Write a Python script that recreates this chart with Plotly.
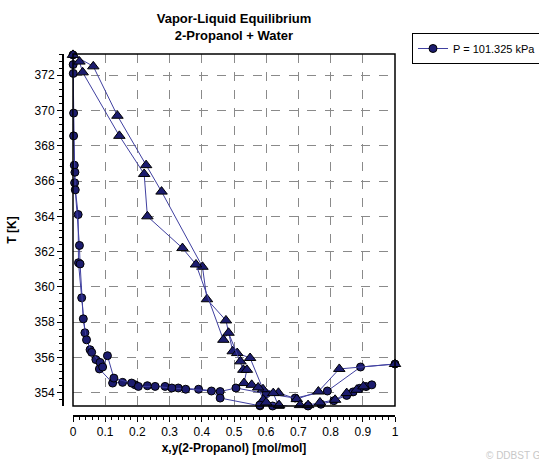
import plotly.graph_objects as go

# ---- data ----
# dataset A
xA = [0, 0.001, 0.002, 0.004, 0.005, 0.016, 0.017, 0.027, 0.037, 0.053, 0.071, 0.082, 0.123,
      0.154, 0.193, 0.231, 0.286, 0.327, 0.39, 0.457, 0.506, 0.6, 0.69, 0.79, 0.893, 1.0]
TxA = [373.15, 372.1, 369.85, 366.9, 365.9, 364.1, 361.37, 359.38, 357.4, 356.44, 355.88, 355.35, 354.55,
       354.59, 354.45, 354.4, 354.36, 354.27, 354.2, 354.07, 354.27, 353.95, 353.7, 354.1, 355.46, 355.63]
yA = [0, 0.063, 0.138, 0.227, 0.275, 0.402, 0.416, 0.475, 0.496, 0.51, 0.55, 0.59, 0.638,
      0.695, 0.762, 0.827, 1.0]
TyA = [373.15, 372.5, 369.7, 366.9, 365.4, 361.14, 359.3, 358.1, 356.35, 356.25, 355.97, 354.2, 354.0,
       353.64, 354.07, 355.35, 355.63]

# dataset B
xB = [0.0005, 0.002, 0.006, 0.007, 0.02, 0.022, 0.032, 0.042, 0.058, 0.084, 0.092, 0.107, 0.127,
      0.182, 0.203, 0.255, 0.307, 0.35, 0.43, 0.457, 0.581, 0.63, 0.68]
TxB = [372.6, 368.56, 366.5, 365.5, 362.35, 361.3, 358.19, 357.0, 356.29, 355.72, 355.46, 356.1, 354.83,
       354.55, 354.36, 354.36, 354.27, 354.2, 354.1, 353.7, 353.26, 353.22, 353.2]
yB = [0.02, 0.03, 0.144, 0.221, 0.231, 0.34, 0.382, 0.467, 0.483, 0.52, 0.529, 0.54, 0.531, 0.555,
      0.575, 0.591, 0.622, 0.638, 0.663, 0.68]
TyB = [372.77, 372.16, 368.56, 366.4, 364.0, 362.2, 361.27, 357.0, 357.4, 355.78, 355.3, 355.3, 354.55, 354.45,
       354.3, 353.6, 353.98, 353.26, 353.22, 353.2]

# dataset C
xC = [0.58, 0.62, 0.66, 0.7, 0.73, 0.77, 0.81, 0.85, 0.87, 0.89, 0.91, 0.928]
TxC = [353.3, 353.25, 353.2, 353.2, 353.25, 353.35, 353.55, 353.85, 354.05, 354.25, 354.35, 354.45]
yC = [0.6, 0.64, 0.67, 0.7, 0.705, 0.73, 0.767, 0.814, 0.85, 0.881, 0.902]
TyC = [353.45, 353.3, 353.22, 353.2, 353.3, 353.3, 353.45, 353.6, 353.98, 354.17, 354.36]

x_ticks = [0, 0.1, 0.2, 0.3, 0.4, 0.5, 0.6, 0.7, 0.8, 0.9, 1]
y_ticks = [354, 356, 358, 360, 362, 364, 366, 368, 370, 372]

series_name = "P = 101.325 kPa"
fill = "#1c1c6e"
line_col = "#4040a0"

fig = go.Figure()
first = True
for xs, ts, sym in [(xA, TxA, "circle"), (yA, TyA, "triangle-up"),
                    (xB, TxB, "circle"), (yB, TyB, "triangle-up"),
                    (xC, TxC, "circle"), (yC, TyC, "triangle-up")]:
    fig.add_trace(go.Scatter(
        x=xs, y=ts, mode="lines+markers", name=series_name,
        showlegend=first, cliponaxis=False,
        line=dict(color=line_col, width=1),
        marker=dict(symbol=sym, size=8 if sym == "circle" else 10, color=fill,
                    line=dict(color="black", width=1)),
    ))
    first = False

L, R, T, B = 63, 144, 54, 45
W, H = 539, 461
pw, ph = W - L - R, H - T - B

fig.update_layout(
    width=W, height=H,
    margin=dict(l=L, r=R, t=T, b=B, autoexpand=False),
    paper_bgcolor="white", plot_bgcolor="white",
    font=dict(family="Liberation Sans, Arial, sans-serif", size=12, color="black"),
    title=dict(text="<b>Vapor-Liquid Equilibrium<br>2-Propanol + Water</b>",
               x=(L + 10 + (pw - 10) / 2) / W, xanchor="center", y=1 - 23 / H, yanchor="top",
               font=dict(size=13)),
    showlegend=True,
    legend=dict(x=(412 - L) / pw, y=(H - B - 33) / ph, xanchor="left", yanchor="top",
                bordercolor="black", borderwidth=1, bgcolor="white",
                font=dict(size=11), itemwidth=30,
                tracegroupgap=0),
    xaxis=dict(domain=[10 / pw, 1], range=[0, 1], anchor="free", position=0,
               tickvals=x_ticks, ticktext=[str(v) for v in x_ticks],
               ticks="outside", ticklen=5, tickcolor="black",
               showline=True, linecolor="black", linewidth=2,
               showgrid=True, gridcolor="#8a8a8a", griddash="dash", gridwidth=1,
               zeroline=False,
               minor=dict(dtick=0.02, ticks="outside", ticklen=3, tickcolor="black", showgrid=False),
               title=dict(text="<b>x,y(2-Propanol) [mol/mol]</b>", font=dict(size=12), standoff=4)),
    yaxis=dict(domain=[10 / ph, 1], range=[353.25, 373.2], anchor="free", position=0,
               tickvals=y_ticks,
               ticks="outside", ticklen=5, tickcolor="black",
               showline=True, linecolor="black", linewidth=2,
               showgrid=True, gridcolor="#8a8a8a", griddash="dash", gridwidth=1,
               zeroline=False,
               minor=dict(dtick=0.4, ticks="outside", ticklen=3, tickcolor="black", showgrid=False),
               title=dict(text="<b>T [K]</b>", font=dict(size=12), standoff=14)),
    shapes=[dict(type="rect", xref="x domain", yref="y domain", x0=0, x1=1, y0=0, y1=1,
                 line=dict(color="black", width=1.5), layer="above")],
    annotations=[dict(text="© DDBST GmbH", xref="paper", yref="paper",
                      x=(484 - L) / pw, y=-(455 - (H - B)) / ph, xanchor="left", yanchor="middle",
                      showarrow=False, font=dict(size=10, color="#c8c8c8"))],
)

fig.write_html("out.html", config={"displayModeBar": False},
               post_script="document.body.style.margin='0';")
